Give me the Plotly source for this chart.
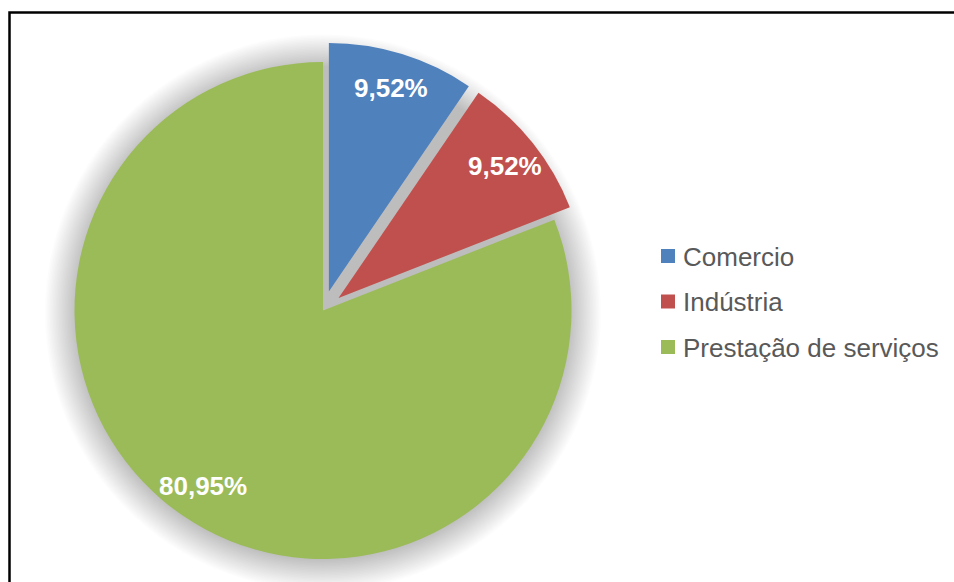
import math
import plotly.graph_objects as go

# ---- data ----
categories = ["Comercio", "Indústria", "Prestação de serviços"]
shares = [9.52, 9.52, 80.95]
pulled = [True, True, False]
colors = ["#4F81BD", "#C0504D", "#9BBB59"]

# ---- layout constants (pixels) ----
W, H = 954, 582
CX, CY, R = 323.0, 310.5, 248.5
PULL = 0.08
LABEL_FRAC = 0.855
FONT = "Liberation Sans, Arial, sans-serif"

box = 2 * R * (1 + PULL)
dom_x = [(CX - box / 2) / W, (CX + box / 2) / W]
dom_y = [1 - (CY + box / 2) / H, 1 - (CY - box / 2) / H]

fig = go.Figure()
fig.add_trace(go.Pie(
    labels=categories,
    values=shares,
    pull=[PULL if p else 0 for p in pulled],
    sort=False,
    direction="clockwise",
    rotation=0,
    marker=dict(colors=colors, line=dict(width=0)),
    textinfo="none",
    hoverinfo="label+percent",
    showlegend=False,
    domain=dict(x=dom_x, y=dom_y),
))

shapes = []
# soft shadow behind the pie
n_sh = 22
for k in range(n_sh):
    rr = R - 2 + k * 1.5
    shapes.append(dict(
        type="circle", layer="below",
        xref="paper", yref="paper",
        xsizemode="pixel", ysizemode="pixel",
        xanchor=CX / W, yanchor=1 - (CY + 2) / H,
        x0=-rr, x1=rr, y0=-rr, y1=rr,
        fillcolor="rgba(0,0,0,0.0105)", line=dict(width=0),
    ))

# chart frame (cropped on right & bottom)
shapes.append(dict(
    type="rect", xref="paper", yref="paper",
    x0=9.5 / W, x1=1.05, y0=-0.05, y1=1 - 12.5 / H,
    line=dict(color="black", width=2.5), fillcolor="rgba(0,0,0,0)",
))

annotations = []
# percentage labels positioned along each slice bisector
total = sum(shares)
cum = 0.0
for name, v, p in zip(categories, shares, pulled):
    mid = (cum + v / 2) / total * 2 * math.pi
    cum += v
    off = PULL * R if p else 0.0
    d = off + LABEL_FRAC * R
    px = CX + d * math.sin(mid)
    py = CY - d * math.cos(mid)
    annotations.append(dict(
        x=px / W, y=1 - py / H, xref="paper", yref="paper",
        text=f"<b>{v:.2f}%</b>".replace(".", ","),
        showarrow=False, xanchor="center", yanchor="middle",
        font=dict(family=FONT, size=26, color="white"),
    ))

# legend (manual, Excel-style)
LEG_X, LEG_Y0, LEG_DY, SQ = 668, 256, 45.5, 7
for i, (name, c) in enumerate(zip(categories, colors)):
    yy = LEG_Y0 + i * LEG_DY
    shapes.append(dict(
        type="rect", xref="paper", yref="paper",
        xsizemode="pixel", ysizemode="pixel",
        xanchor=LEG_X / W, yanchor=1 - yy / H,
        x0=-SQ, x1=SQ, y0=-SQ, y1=SQ,
        fillcolor=c, line=dict(width=0),
    ))
    annotations.append(dict(
        x=(LEG_X + 13) / W, y=1 - (yy + 0.5) / H, xref="paper", yref="paper",
        text=name, showarrow=False, xanchor="left", yanchor="middle",
        font=dict(family=FONT, size=26, color="#595959"),
    ))

fig.update_layout(
    width=W, height=H,
    margin=dict(l=0, r=0, t=0, b=0),
    paper_bgcolor="white", plot_bgcolor="white",
    shapes=shapes, annotations=annotations,
    showlegend=False,
)

fig.write_html("out.html")
